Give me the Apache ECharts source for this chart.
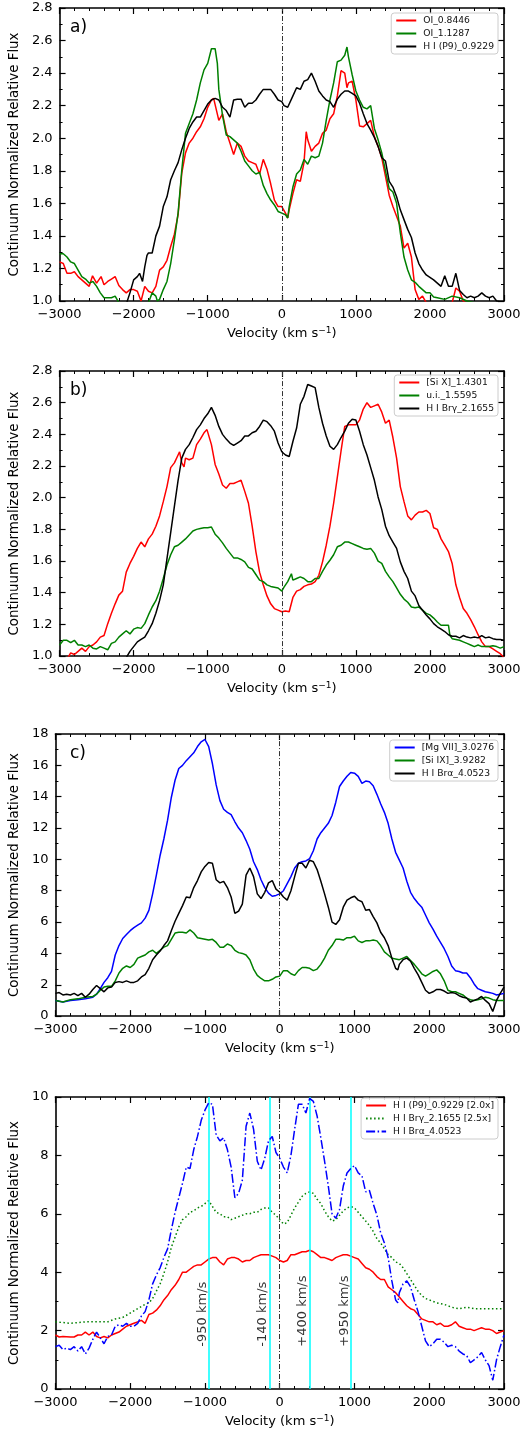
<!DOCTYPE html>
<html><head><meta charset="utf-8">
<script src="https://cdn.jsdelivr.net/npm/echarts@6/dist/echarts.min.js"></script>
<style>html,body{margin:0;padding:0;background:#fff;width:525px;height:1433px;overflow:hidden}
.p{position:absolute;left:0;width:525px}</style></head>
<body>
<div id="pa" class="p" style="top:0;height:350px"></div>
<div id="pb" class="p" style="top:350px;height:350px"></div>
<div id="pc" class="p" style="top:700px;height:360px"></div>
<div id="pd" class="p" style="top:1060px;height:373px"></div>
<script>
// ---------------- DATA ----------------
const xTicks = [-3000, -2000, -1000, 0, 1000, 2000, 3000];

// Panel a
const oi8446 = [[-3000,1.24],[-2950,1.23],[-2900,1.17],[-2850,1.17],[-2800,1.18],[-2750,1.15],[-2700,1.13],[-2650,1.11],[-2600,1.09],[-2555,1.155],[-2500,1.11],[-2440,1.15],[-2400,1.10],[-2350,1.12],[-2300,1.135],[-2250,1.15],[-2200,1.095],[-2150,1.07],[-2100,1.05],[-2050,1.07],[-2000,1.07],[-1950,1.06],[-1900,1.0],[-1850,1.09],[-1800,1.06],[-1750,1.05],[-1700,1.09],[-1650,1.19],[-1600,1.21],[-1550,1.25],[-1500,1.335],[-1450,1.41],[-1400,1.53],[-1350,1.785],[-1300,1.91],[-1250,1.97],[-1200,2.0],[-1150,2.04],[-1100,2.07],[-1050,2.12],[-1000,2.19],[-950,2.235],[-920,2.245],[-900,2.235],[-850,2.11],[-800,2.15],[-750,2.04],[-700,1.97],[-650,1.90],[-600,1.97],[-550,1.95],[-500,1.89],[-450,1.86],[-400,1.85],[-350,1.84],[-300,1.78],[-250,1.87],[-200,1.81],[-150,1.72],[-100,1.62],[-50,1.58],[0,1.58],[50,1.54],[80,1.51],[100,1.56],[150,1.66],[200,1.745],[250,1.735],[300,1.85],[330,2.04],[350,1.99],[400,1.92],[450,1.95],[500,1.97],[550,2.03],[600,2.05],[650,2.12],[700,2.15],[750,2.26],[800,2.415],[850,2.40],[880,2.31],[900,2.34],[950,2.35],[1000,2.235],[1050,2.075],[1100,2.07],[1150,2.09],[1200,2.11],[1250,2.01],[1300,1.95],[1350,1.88],[1400,1.765],[1450,1.65],[1500,1.58],[1550,1.52],[1600,1.46],[1650,1.325],[1700,1.355],[1750,1.27],[1800,1.07],[1850,1.01],[1900,1.03],[1950,0.99],[2000,0.97],[2100,0.96],[2200,0.97],[2300,0.99],[2350,1.08],[2400,1.06],[2450,1.0],[2500,0.98],[2600,0.96],[3000,0.95]];
const oi11287 = [[-3000,1.29],[-2950,1.29],[-2900,1.27],[-2850,1.24],[-2800,1.23],[-2750,1.19],[-2700,1.15],[-2650,1.135],[-2600,1.11],[-2550,1.12],[-2500,1.09],[-2450,1.05],[-2400,1.02],[-2350,1.02],[-2300,1.02],[-2250,1.03],[-2200,0.99],[-2100,0.97],[-2000,0.96],[-1900,0.97],[-1800,0.99],[-1750,1.05],[-1700,1.03],[-1680,1.0],[-1650,1.01],[-1600,1.07],[-1550,1.12],[-1500,1.23],[-1450,1.375],[-1400,1.54],[-1350,1.805],[-1300,2.03],[-1250,2.09],[-1200,2.15],[-1150,2.235],[-1100,2.34],[-1050,2.42],[-1000,2.46],[-950,2.55],[-900,2.55],[-870,2.46],[-850,2.30],[-800,2.14],[-750,2.02],[-700,2.01],[-650,1.99],[-600,1.97],[-550,1.92],[-500,1.86],[-450,1.83],[-400,1.80],[-350,1.78],[-300,1.79],[-250,1.71],[-200,1.66],[-150,1.62],[-100,1.59],[-50,1.55],[0,1.54],[50,1.53],[80,1.51],[100,1.58],[150,1.70],[200,1.78],[250,1.805],[300,1.87],[350,1.84],[400,1.89],[450,1.88],[500,1.89],[550,1.97],[600,2.11],[650,2.235],[700,2.34],[750,2.47],[800,2.48],[850,2.51],[880,2.56],[900,2.50],[950,2.39],[1000,2.29],[1050,2.235],[1100,2.19],[1150,2.18],[1200,2.20],[1250,2.06],[1300,1.99],[1350,1.91],[1400,1.80],[1450,1.69],[1500,1.67],[1550,1.60],[1600,1.42],[1650,1.27],[1700,1.19],[1750,1.13],[1800,1.115],[1850,1.09],[1900,1.07],[1950,1.05],[2000,1.05],[2050,1.025],[2100,1.02],[2200,1.01],[2300,1.03],[2400,1.02],[2500,1.0],[2600,0.99],[3000,0.98]];
const p9_9229 = [[-2100,0.98],[-2050,1.05],[-2000,1.13],[-1950,1.15],[-1920,1.17],[-1880,1.12],[-1850,1.21],[-1820,1.28],[-1800,1.295],[-1750,1.295],[-1700,1.40],[-1650,1.46],[-1600,1.58],[-1550,1.64],[-1500,1.745],[-1450,1.80],[-1400,1.85],[-1350,1.93],[-1300,2.0],[-1250,2.06],[-1200,2.10],[-1150,2.13],[-1100,2.13],[-1050,2.17],[-1000,2.21],[-950,2.235],[-900,2.245],[-850,2.235],[-800,2.19],[-750,2.17],[-700,2.13],[-650,2.235],[-600,2.24],[-550,2.24],[-500,2.19],[-450,2.215],[-400,2.215],[-350,2.235],[-300,2.27],[-250,2.30],[-200,2.30],[-150,2.30],[-100,2.27],[-50,2.235],[0,2.225],[30,2.20],[80,2.19],[100,2.20],[150,2.26],[200,2.31],[250,2.30],[300,2.35],[350,2.36],[400,2.40],[450,2.35],[500,2.29],[550,2.26],[600,2.235],[650,2.225],[700,2.19],[750,2.24],[800,2.27],[850,2.29],[900,2.29],[950,2.275],[1000,2.26],[1050,2.215],[1100,2.15],[1150,2.09],[1200,2.05],[1250,2.005],[1300,1.95],[1350,1.88],[1400,1.86],[1450,1.735],[1500,1.70],[1550,1.64],[1600,1.56],[1650,1.50],[1700,1.44],[1750,1.39],[1800,1.295],[1850,1.23],[1900,1.19],[1950,1.16],[2000,1.145],[2050,1.13],[2100,1.11],[2150,1.09],[2200,1.155],[2250,1.09],[2300,1.09],[2350,1.17],[2400,1.065],[2450,1.04],[2500,1.02],[2550,1.03],[2600,1.02],[2650,1.03],[2700,1.05],[2750,1.03],[2800,1.02],[2850,1.03],[2900,1.0],[3000,0.99]];

// Panel b
const six14301 = [[-3000,0.96],[-2900,0.98],[-2850,1.02],[-2800,1.01],[-2750,1.03],[-2700,1.05],[-2650,1.03],[-2600,1.06],[-2550,1.07],[-2500,1.09],[-2450,1.12],[-2400,1.13],[-2350,1.205],[-2300,1.27],[-2250,1.33],[-2200,1.385],[-2150,1.41],[-2100,1.53],[-2050,1.585],[-2000,1.63],[-1950,1.68],[-1900,1.72],[-1850,1.69],[-1800,1.74],[-1750,1.77],[-1700,1.82],[-1650,1.885],[-1600,1.975],[-1550,2.07],[-1500,2.19],[-1450,2.22],[-1400,2.27],[-1380,2.29],[-1350,2.22],[-1320,2.195],[-1300,2.25],[-1250,2.24],[-1200,2.25],[-1150,2.335],[-1100,2.37],[-1050,2.41],[-1010,2.43],[-950,2.335],[-900,2.21],[-850,2.15],[-800,2.08],[-750,2.06],[-700,2.09],[-650,2.09],[-600,2.10],[-550,2.11],[-500,2.04],[-450,1.965],[-400,1.82],[-350,1.66],[-300,1.53],[-250,1.45],[-200,1.38],[-150,1.33],[-100,1.30],[-50,1.29],[0,1.28],[50,1.285],[100,1.28],[150,1.37],[200,1.41],[250,1.42],[300,1.44],[350,1.45],[400,1.455],[450,1.47],[500,1.51],[550,1.595],[600,1.70],[650,1.82],[700,1.965],[750,2.13],[800,2.295],[850,2.45],[900,2.46],[950,2.46],[1000,2.46],[1050,2.49],[1100,2.56],[1150,2.60],[1200,2.57],[1250,2.58],[1300,2.59],[1350,2.54],[1400,2.47],[1450,2.49],[1500,2.38],[1550,2.25],[1600,2.07],[1650,1.975],[1700,1.885],[1750,1.86],[1800,1.89],[1850,1.91],[1900,1.91],[1950,1.92],[2000,1.90],[2050,1.81],[2100,1.80],[2150,1.74],[2200,1.70],[2250,1.66],[2300,1.585],[2350,1.45],[2400,1.37],[2450,1.30],[2500,1.27],[2550,1.23],[2600,1.185],[2650,1.135],[2700,1.09],[2750,1.06],[2800,1.06],[2850,1.045],[2900,1.03],[2950,1.015],[3000,0.99]];
const ui15595 = [[-3000,1.07],[-2950,1.10],[-2900,1.10],[-2850,1.085],[-2800,1.10],[-2750,1.07],[-2700,1.07],[-2650,1.06],[-2600,1.07],[-2550,1.05],[-2500,1.045],[-2450,1.06],[-2400,1.05],[-2350,1.04],[-2300,1.08],[-2250,1.09],[-2200,1.12],[-2150,1.14],[-2100,1.16],[-2050,1.14],[-2000,1.17],[-1950,1.18],[-1900,1.175],[-1850,1.205],[-1800,1.26],[-1750,1.31],[-1700,1.35],[-1650,1.41],[-1600,1.49],[-1550,1.575],[-1500,1.64],[-1450,1.69],[-1400,1.70],[-1350,1.72],[-1300,1.74],[-1250,1.765],[-1200,1.79],[-1150,1.80],[-1100,1.805],[-1050,1.81],[-1000,1.81],[-950,1.815],[-900,1.77],[-850,1.745],[-800,1.715],[-750,1.68],[-700,1.65],[-650,1.62],[-600,1.62],[-550,1.61],[-500,1.595],[-450,1.56],[-400,1.55],[-350,1.515],[-300,1.48],[-250,1.47],[-200,1.45],[-150,1.44],[-100,1.435],[-50,1.43],[0,1.41],[30,1.435],[80,1.47],[100,1.48],[130,1.52],[150,1.48],[200,1.49],[250,1.50],[300,1.49],[350,1.47],[400,1.47],[450,1.49],[500,1.49],[550,1.535],[600,1.575],[650,1.605],[700,1.64],[750,1.69],[800,1.70],[850,1.72],[900,1.72],[950,1.71],[1000,1.70],[1050,1.69],[1100,1.68],[1150,1.675],[1200,1.68],[1250,1.65],[1300,1.60],[1350,1.585],[1400,1.535],[1450,1.50],[1500,1.47],[1550,1.43],[1600,1.39],[1650,1.36],[1700,1.34],[1750,1.31],[1800,1.305],[1850,1.31],[1900,1.29],[1950,1.27],[2000,1.26],[2050,1.24],[2100,1.215],[2150,1.195],[2200,1.195],[2250,1.195],[2270,1.13],[2300,1.11],[2400,1.10],[2450,1.09],[2500,1.08],[2550,1.07],[2600,1.06],[2650,1.07],[2700,1.06],[2750,1.06],[2800,1.06],[2850,1.065],[2900,1.06],[2950,1.05],[3000,1.06]];
const brg21655 = [[-2100,0.99],[-2050,1.03],[-2000,1.06],[-1950,1.09],[-1900,1.105],[-1850,1.12],[-1800,1.16],[-1750,1.205],[-1700,1.27],[-1650,1.35],[-1600,1.45],[-1550,1.615],[-1500,1.78],[-1450,1.945],[-1400,2.11],[-1350,2.25],[-1300,2.305],[-1250,2.335],[-1200,2.38],[-1150,2.43],[-1100,2.46],[-1050,2.50],[-1000,2.53],[-950,2.57],[-900,2.52],[-850,2.45],[-800,2.40],[-750,2.37],[-700,2.345],[-650,2.33],[-600,2.345],[-550,2.36],[-500,2.39],[-450,2.39],[-400,2.41],[-350,2.42],[-300,2.45],[-250,2.49],[-200,2.48],[-150,2.455],[-100,2.42],[-50,2.345],[0,2.29],[50,2.27],[100,2.26],[150,2.355],[200,2.44],[250,2.59],[300,2.64],[350,2.715],[400,2.705],[450,2.695],[500,2.57],[550,2.47],[600,2.39],[650,2.325],[700,2.305],[750,2.335],[800,2.38],[850,2.42],[900,2.47],[950,2.495],[1000,2.49],[1050,2.42],[1100,2.335],[1150,2.27],[1200,2.19],[1250,2.11],[1300,2.005],[1350,1.925],[1400,1.82],[1450,1.76],[1500,1.72],[1550,1.68],[1600,1.595],[1650,1.535],[1700,1.49],[1750,1.41],[1800,1.38],[1850,1.32],[1900,1.29],[1950,1.26],[2000,1.235],[2050,1.205],[2100,1.185],[2150,1.17],[2200,1.155],[2250,1.135],[2300,1.125],[2350,1.125],[2400,1.115],[2450,1.13],[2500,1.12],[2550,1.115],[2600,1.12],[2650,1.115],[2700,1.13],[2750,1.115],[2800,1.12],[2850,1.11],[2900,1.105],[2950,1.105],[3000,1.10]];

// Panel c
const mgvii30276 = [[-3000,1.0],[-2900,0.9],[-2800,1.0],[-2700,1.05],[-2600,1.1],[-2500,1.2],[-2450,1.4],[-2400,1.75],[-2350,2.15],[-2300,2.45],[-2250,2.85],[-2200,3.9],[-2150,4.5],[-2100,4.95],[-2050,5.2],[-2000,5.45],[-1950,5.65],[-1900,5.8],[-1850,5.95],[-1800,6.25],[-1750,6.75],[-1700,7.8],[-1650,9.0],[-1600,10.25],[-1550,11.3],[-1500,12.5],[-1450,13.95],[-1400,15.05],[-1350,15.8],[-1300,16.0],[-1250,16.3],[-1200,16.55],[-1150,16.8],[-1100,17.2],[-1050,17.5],[-1000,17.65],[-950,17.2],[-900,16.1],[-850,14.75],[-800,13.75],[-750,13.2],[-700,13.0],[-650,12.85],[-600,12.4],[-550,12.0],[-500,11.7],[-450,11.2],[-400,10.65],[-350,9.85],[-300,9.35],[-250,8.7],[-200,8.2],[-150,7.85],[-100,7.65],[-50,7.7],[0,7.8],[50,8.0],[100,8.45],[150,8.9],[200,9.45],[250,9.75],[300,9.85],[350,9.9],[400,10.05],[450,10.55],[500,11.3],[550,11.7],[600,12.0],[650,12.3],[700,12.8],[750,13.65],[800,14.65],[850,15.0],[900,15.3],[950,15.55],[1000,15.5],[1050,15.3],[1100,14.85],[1150,15.0],[1200,14.95],[1250,14.7],[1300,14.15],[1350,13.55],[1400,13.0],[1450,12.3],[1500,11.3],[1550,10.45],[1600,9.95],[1650,9.45],[1700,8.6],[1750,7.9],[1800,7.5],[1850,7.2],[1900,6.95],[1950,6.45],[2000,5.95],[2050,5.55],[2100,5.1],[2150,4.7],[2200,4.3],[2250,3.8],[2300,3.2],[2350,2.9],[2400,2.85],[2450,2.75],[2500,2.75],[2550,2.45],[2600,2.05],[2650,1.75],[2700,1.65],[2750,1.55],[2800,1.5],[2850,1.45],[2900,1.35],[2950,1.4],[3000,1.45]];
const six39282 = [[-3000,1.0],[-2900,0.9],[-2800,1.05],[-2700,1.1],[-2600,1.2],[-2500,1.25],[-2450,1.4],[-2400,1.65],[-2350,1.85],[-2300,1.9],[-2250,1.9],[-2200,2.25],[-2150,2.75],[-2100,3.05],[-2050,3.2],[-2000,3.1],[-1950,3.3],[-1900,3.7],[-1850,3.8],[-1800,3.9],[-1750,4.1],[-1700,4.2],[-1650,4.0],[-1600,4.2],[-1550,4.4],[-1500,4.5],[-1450,4.9],[-1400,5.3],[-1350,5.35],[-1300,5.35],[-1250,5.3],[-1200,5.5],[-1150,5.3],[-1100,5.0],[-1050,4.95],[-1000,4.9],[-950,4.85],[-900,4.9],[-850,4.7],[-800,4.4],[-750,4.4],[-700,4.6],[-650,4.5],[-600,4.2],[-550,4.05],[-500,4.0],[-450,3.9],[-400,3.6],[-350,3.0],[-300,2.6],[-250,2.4],[-200,2.25],[-150,2.25],[-100,2.35],[-50,2.5],[0,2.55],[50,2.9],[100,2.9],[150,2.7],[200,2.6],[250,2.9],[300,3.1],[350,3.1],[400,3.05],[450,2.9],[500,3.0],[550,3.3],[600,3.7],[650,4.2],[700,4.5],[750,4.9],[800,4.9],[850,4.85],[900,5.0],[950,5.0],[1000,5.1],[1050,4.8],[1100,4.7],[1150,4.8],[1200,4.8],[1250,4.85],[1300,4.8],[1350,4.5],[1400,4.1],[1450,3.9],[1500,3.7],[1550,3.65],[1600,3.6],[1650,3.7],[1700,3.8],[1750,3.55],[1800,3.3],[1850,3.0],[1900,2.7],[1950,2.55],[2000,2.7],[2050,2.85],[2100,2.95],[2150,2.7],[2200,2.25],[2250,1.65],[2300,1.55],[2350,1.55],[2400,1.45],[2450,1.35],[2500,1.15],[2550,1.05],[2600,1.0],[2650,1.05],[2700,1.1],[2750,1.2],[2800,1.15],[2850,1.05],[2900,1.0],[2950,1.0],[3000,1.0]];
const bra40523 = [[-3000,1.45],[-2950,1.5],[-2900,1.35],[-2850,1.4],[-2800,1.35],[-2750,1.45],[-2700,1.3],[-2650,1.45],[-2600,1.2],[-2550,1.4],[-2500,1.7],[-2450,1.95],[-2400,1.75],[-2350,1.55],[-2300,1.8],[-2250,1.85],[-2200,2.15],[-2150,2.2],[-2100,2.15],[-2050,2.25],[-2000,2.15],[-1950,2.15],[-1900,2.25],[-1850,2.5],[-1800,2.65],[-1750,3.05],[-1700,3.6],[-1650,3.9],[-1600,4.15],[-1550,4.5],[-1500,4.8],[-1450,5.45],[-1400,6.05],[-1350,6.55],[-1300,7.05],[-1250,7.6],[-1200,7.55],[-1150,8.2],[-1100,8.65],[-1050,9.2],[-1000,9.55],[-950,9.8],[-900,9.75],[-850,8.7],[-800,8.5],[-750,8.6],[-700,8.2],[-650,7.6],[-600,6.55],[-550,6.7],[-500,7.15],[-450,9.0],[-400,9.45],[-350,8.9],[-300,7.8],[-250,7.5],[-200,7.9],[-150,8.5],[-100,8.65],[-50,8.1],[0,7.9],[50,7.6],[100,7.4],[150,8.0],[200,8.9],[250,9.75],[300,9.75],[350,9.45],[400,9.95],[450,9.85],[500,9.35],[550,8.6],[600,7.8],[650,6.95],[700,6.0],[750,5.85],[800,6.15],[850,6.95],[900,7.4],[950,7.55],[1000,7.65],[1050,7.4],[1100,7.3],[1150,6.75],[1200,6.8],[1250,6.35],[1300,5.95],[1350,5.35],[1400,5.0],[1450,4.5],[1500,3.7],[1550,3.05],[1580,2.95],[1600,3.3],[1650,3.6],[1700,3.7],[1750,3.5],[1800,3.05],[1850,2.65],[1900,2.15],[1950,1.65],[2000,1.45],[2050,1.55],[2100,1.7],[2150,1.7],[2200,1.6],[2250,1.45],[2300,1.5],[2350,1.45],[2400,1.3],[2450,1.2],[2500,1.15],[2550,0.9],[2600,1.0],[2650,1.1],[2700,1.25],[2750,1.0],[2800,0.8],[2850,0.3],[2900,1.0],[2950,1.45],[3000,1.85]];

// Panel d (scaled hydrogen lines)
const p9x2 = [[-3000,1.85],[-2950,1.78],[-2900,1.8],[-2800,1.78],[-2750,1.78],[-2700,1.85],[-2650,1.85],[-2600,1.95],[-2550,1.85],[-2500,1.95],[-2450,1.8],[-2400,1.75],[-2350,1.8],[-2300,1.75],[-2250,1.85],[-2200,1.9],[-2150,1.95],[-2100,2.05],[-2050,2.15],[-2000,2.2],[-1950,2.25],[-1900,2.3],[-1850,2.35],[-1800,2.25],[-1750,2.55],[-1700,2.6],[-1650,2.7],[-1600,2.85],[-1550,3.05],[-1500,3.2],[-1450,3.4],[-1400,3.55],[-1350,3.75],[-1300,4.0],[-1250,4.0],[-1200,4.1],[-1150,4.2],[-1100,4.25],[-1050,4.25],[-1000,4.35],[-950,4.45],[-900,4.5],[-850,4.5],[-800,4.35],[-750,4.25],[-700,4.45],[-650,4.5],[-600,4.5],[-550,4.45],[-500,4.35],[-450,4.4],[-400,4.4],[-350,4.5],[-300,4.55],[-250,4.6],[-200,4.6],[-150,4.6],[-100,4.55],[-50,4.5],[0,4.4],[50,4.35],[100,4.4],[150,4.6],[200,4.6],[250,4.65],[300,4.7],[350,4.7],[400,4.75],[450,4.7],[500,4.6],[550,4.5],[600,4.5],[650,4.45],[700,4.4],[750,4.5],[800,4.55],[850,4.6],[900,4.6],[950,4.55],[1000,4.5],[1050,4.45],[1100,4.3],[1150,4.15],[1200,4.1],[1250,4.0],[1300,3.85],[1350,3.75],[1400,3.75],[1450,3.5],[1500,3.4],[1550,3.3],[1600,3.15],[1650,3.0],[1700,2.85],[1750,2.75],[1800,2.7],[1850,2.55],[1900,2.4],[1950,2.35],[2000,2.3],[2050,2.3],[2100,2.2],[2150,2.25],[2200,2.15],[2250,2.15],[2300,2.2],[2350,2.3],[2400,2.15],[2450,2.1],[2500,2.05],[2550,2.05],[2600,2.0],[2650,2.05],[2700,2.1],[2750,2.05],[2800,2.05],[2850,2.0],[2900,1.9],[2950,1.95],[3000,2.0]];
const brgx25 = [[-3000,2.3],[-2800,2.25],[-2600,2.3],[-2400,2.3],[-2300,2.3],[-2200,2.4],[-2100,2.45],[-2000,2.6],[-1900,2.75],[-1800,2.9],[-1750,2.95],[-1700,3.1],[-1650,3.35],[-1600,3.6],[-1550,3.95],[-1500,4.35],[-1450,4.85],[-1400,5.2],[-1350,5.55],[-1300,5.8],[-1250,5.9],[-1200,6.05],[-1150,6.1],[-1100,6.2],[-1050,6.25],[-1000,6.35],[-950,6.45],[-900,6.25],[-850,6.05],[-800,6.0],[-750,5.9],[-700,5.9],[-650,5.8],[-600,5.85],[-550,5.9],[-500,5.95],[-450,6.0],[-400,6.0],[-350,6.05],[-300,6.05],[-250,6.15],[-200,6.2],[-150,6.2],[-100,6.05],[-50,5.95],[0,5.8],[50,5.65],[100,5.7],[150,5.95],[200,6.2],[250,6.4],[300,6.6],[350,6.7],[400,6.75],[450,6.7],[500,6.5],[550,6.35],[600,6.1],[650,5.9],[700,5.75],[750,5.8],[800,5.95],[850,6.1],[900,6.2],[950,6.25],[1000,6.2],[1050,6.05],[1100,5.9],[1150,5.75],[1200,5.6],[1250,5.4],[1300,5.15],[1350,5.0],[1400,4.8],[1450,4.6],[1500,4.5],[1550,4.35],[1600,4.3],[1650,4.15],[1700,3.95],[1750,3.75],[1800,3.55],[1850,3.35],[1900,3.2],[1950,3.1],[2000,3.05],[2100,2.95],[2200,2.9],[2300,2.8],[2400,2.75],[2500,2.8],[2600,2.75],[2700,2.75],[2800,2.75],[2900,2.75],[3000,2.75]];
const braD = bra40523;
const markerVel = [-950, -140, 400, 950];
const markerText = ['-950 km/s', '-140 km/s', '+400 km/s', '+950 km/s'];
const markerLabelY = 1.45;

// ---------------- RENDER ----------------
const FONT = 'DejaVu Sans';
const fmtX = v => String(Math.round(v)).replace('-', '\u2212');

function panel(id, o) {
  const chart = echarts.init(document.getElementById(id));
  const grid = { left: 54, width: 450, top: o.top, height: o.height, containLabel: false };
  const tick = { show: true, inside: true, length: 6, lineStyle: { color: '#000', width: 1.2 } };
  const minor = (n) => ({ show: true, splitNumber: n, length: 3, lineStyle: { color: '#000', width: 1 } });
  const axLine = { show: true, onZero: false, lineStyle: { color: '#000', width: 1.6 } };
  const xBase = { type: 'value', min: -3000, max: 3000, interval: 1000, splitLine: { show: false }, axisLine: axLine, axisTick: tick, minorTick: minor(5) };
  const yBase = { type: 'value', min: o.ymin, max: o.ymax, interval: o.yint, splitLine: { show: false }, axisLine: axLine, axisTick: tick, minorTick: minor(2) };
  const series = o.lines.map((l, i) => ({
    name: l.name, type: 'line', data: l.data, symbol: 'none', showSymbol: false,
    lineStyle: { color: l.color, width: 1.5, type: l.type || 'solid' }, itemStyle: { color: l.color },
    z: 3 + i, clip: true, animation: false, silent: true
  }));
  series[0].markLine = {
    symbol: 'none', silent: true, animation: false, label: { show: false },
    lineStyle: { color: '#333', width: 1, type: [5, 2, 1, 2] }, data: [{ xAxis: 0 }]
  };
  if (o.markers) {
    series.push({
      type: 'scatter', symbolSize: 0, z: 10, silent: true, animation: false,
      data: o.markers.vel.map((v, i) => ({ value: [v, o.markers.y], name: o.markers.text[i] })),
      label: { show: true, formatter: '{b}', position: 'inside', align: 'left', verticalAlign: 'bottom', rotate: 90,
               fontFamily: FONT, fontSize: 13, color: '#000' },
      markLine: { symbol: 'none', silent: true, animation: false, label: { show: false },
        lineStyle: { color: '#00FFFF', width: 1.5, type: 'solid' },
        data: o.markers.vel.map(v => ({ xAxis: v })) }
    });
  }
  chart.setOption({
    animation: false,
    grid: grid,
    xAxis: [
      Object.assign({}, xBase, { position: 'bottom',
        axisLabel: { formatter: fmtX, fontFamily: FONT, fontSize: 13, color: '#000', margin: 7 },
        name: 'Velocity (km s{sup|\u22121})', nameLocation: 'middle', nameGap: 23,
        nameTextStyle: { fontFamily: FONT, fontSize: 13, color: '#000',
          rich: { sup: { fontFamily: FONT, fontSize: 9, color: '#000', verticalAlign: 'top', padding: [0, 0, 6, 0] } } } }),
      Object.assign({}, xBase, { position: 'top', axisLabel: { show: false } })
    ],
    yAxis: [
      Object.assign({}, yBase, { position: 'left',
        axisLabel: { formatter: v => o.yfmt(v), fontFamily: FONT, fontSize: 13, color: '#000', margin: 7 },
        name: 'Continuum Normalized Relative Flux', nameLocation: 'middle', nameGap: o.nameGap,
        nameTextStyle: { fontFamily: FONT, fontSize: 13.4, color: '#000' } }),
      Object.assign({}, yBase, { position: 'right', axisLabel: { show: false } })
    ],
    legend: {
      orient: 'vertical', right: 27, top: o.legendTop, data: o.lines.map(l => l.name),
      itemWidth: 20, itemHeight: 10, itemGap: 4, padding: [3, 4, 3, 4],
      itemStyle: { color: 'rgba(0,0,0,0)', borderWidth: 0, opacity: 0 },
      borderColor: '#cccccc', borderWidth: 1, borderRadius: 3, backgroundColor: 'rgba(255,255,255,0.85)',
      textStyle: { fontFamily: FONT, fontSize: 9.2, color: '#111', padding: [0, 0, 0, 2] }, selectedMode: false
    },
    graphic: o.tag ? [{ type: 'text', left: 70, top: o.top + 11, z: 20,
      style: { text: o.tag, fontFamily: FONT, fontSize: 17, fill: '#000' } }] : [],
    series: series
  });
}

const f1 = v => v.toFixed(1);
const f0 = v => String(Math.round(v));

panel('pa', { top: 8, height: 293, ymin: 1.0, ymax: 2.8, yint: 0.2, yfmt: f1, nameGap: 31, legendTop: 13, tag: 'a)',
  lines: [
    { name: 'OI_0.8446', data: oi8446, color: '#ff0000' },
    { name: 'OI_1.1287', data: oi11287, color: '#008000' },
    { name: 'H I (P9)_0.9229', data: p9_9229, color: '#000000' }
  ] });
panel('pb', { top: 21, height: 292, ymin: 1.0, ymax: 2.8, yint: 0.2, yfmt: f1, nameGap: 31, legendTop: 25, tag: 'b)',
  lines: [
    { name: '[Si X]_1.4301', data: six14301, color: '#ff0000' },
    { name: 'u.i._1.5595', data: ui15595, color: '#008000' },
    { name: 'H I Br\u03b3_2.1655', data: brg21655, color: '#000000' }
  ] });
panel('pc', { top: 34, height: 293, ymin: 0, ymax: 18, yint: 2, yfmt: f0, nameGap: 27, legendTop: 40, tag: 'c)',
  lines: [
    { name: '[Mg VII]_3.0276', data: mgvii30276, color: '#0000ff' },
    { name: '[Si IX]_3.9282', data: six39282, color: '#008000' },
    { name: 'H I Br\u03b1_4.0523', data: bra40523, color: '#000000' }
  ] });
panel('pd', { top: 37, height: 292, ymin: 0, ymax: 10, yint: 2, yfmt: f0, nameGap: 27, legendTop: 38, tag: null,
  markers: { vel: markerVel, text: markerText, y: markerLabelY },
  lines: [
    { name: 'H I (P9)_0.9229 [2.0x]', data: p9x2, color: '#ff0000' },
    { name: 'H I Br\u03b3_2.1655 [2.5x]', data: brgx25, color: '#008000', type: [1.5, 2.5] },
    { name: 'H I Br\u03b1_4.0523', data: braD, color: '#0000ff', type: [9, 2.5, 1.5, 2.5] }
  ] });
</script>
</body></html>
